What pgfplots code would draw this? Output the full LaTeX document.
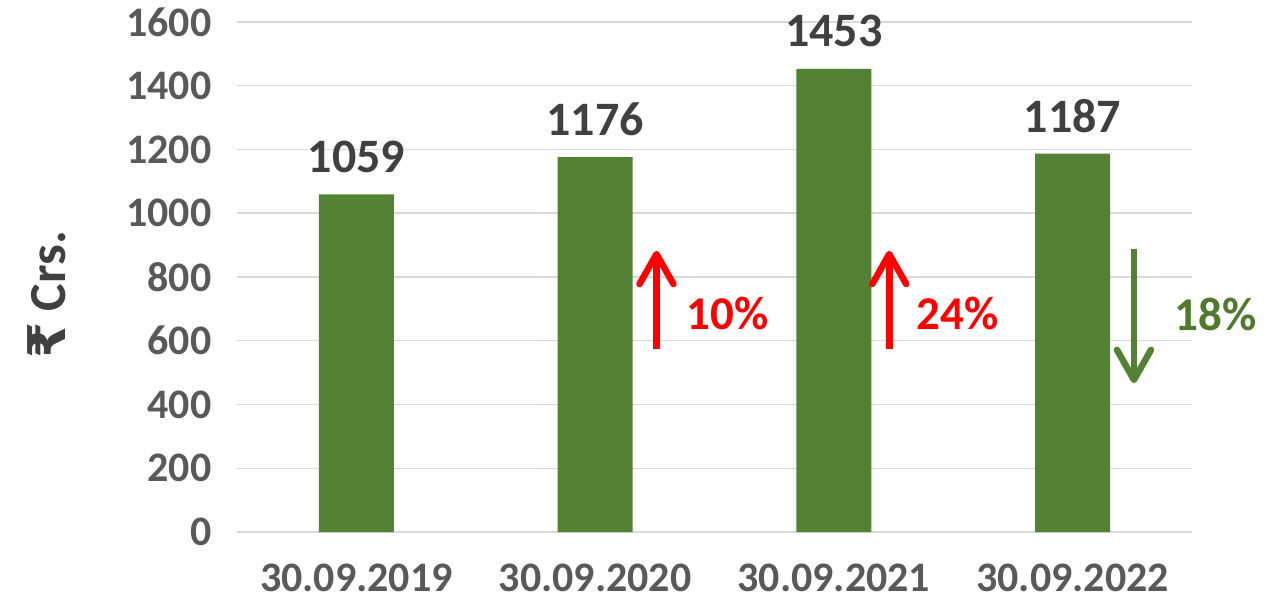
\documentclass[border=0pt]{standalone}
\usepackage{fontspec}
\setmainfont{Carlito}
\newfontfamily\rupeefont{DejaVu Sans}
\usepackage{pgfplots}
\pgfplotsset{compat=1.18}
\usetikzlibrary{arrows.meta}
\definecolor{bargreen}{HTML}{548235}
\definecolor{txtgreen}{HTML}{4F7A2C}
\definecolor{ticktxt}{HTML}{595959}
\definecolor{lbltxt}{HTML}{404040}
\definecolor{gridc}{HTML}{D9D9D9}
\begin{document}
\begin{tikzpicture}
\useasboundingbox (-237bp,-77bp) rectangle (1044bp,532bp);
\begin{axis}[
  scale only axis,
  width=955bp, height=510bp,
  xmin=-0.5, xmax=3.5,
  ymin=0, ymax=1600,
  xtick={0,1,2,3},
  xticklabels={30.09.2019,30.09.2020,30.09.2021,30.09.2022},
  ytick={0,200,...,1600},
  ymajorgrids,
  major grid style={gridc, line width=1.5bp},
  axis line style={draw=none},
  tick style={draw=none},
  /pgf/number format/assume math mode=true,
  /pgf/number format/1000 sep={},
  ticklabel style={font=\fontsize{42bp}{48bp}\selectfont\bfseries, text=ticktxt},
  yticklabel style={xshift=-22bp},
  xticklabel style={yshift=-28bp},
  ylabel={{\rupeefont\bfseries ₹} Crs.},
  ylabel style={at={(rel axis cs:0,0.5)}, anchor=center, yshift=190bp, xshift=-18bp, font=\fontsize{52bp}{58bp}\selectfont\bfseries, text=lbltxt},
  clip=false,
]
\addplot[ybar, bar width=75bp, fill=bargreen, draw=none,
  nodes near coords,
  nodes near coords style={font=\fontsize{48bp}{54bp}\selectfont\bfseries, text=lbltxt, anchor=center, yshift=38bp},
  point meta=explicit symbolic]
  coordinates {(0,1059)[1059] (1,1176)[1176] (2,1453)[1453] (3,1187)[1187]};
\draw[red, line width=6.5bp, -{Straight Barb[length=30bp, width=34bp, round]}] (axis cs:1.257,575) -- (axis cs:1.257,882);
\draw[red, line width=6.5bp, -{Straight Barb[length=30bp, width=34bp, round]}] (axis cs:2.232,575) -- (axis cs:2.232,882);
\draw[bargreen, line width=6.5bp, -{Straight Barb[length=30bp, width=34bp, round]}] (axis cs:3.257,888) -- (axis cs:3.257,467);
\node[font=\fontsize{47bp}{52bp}\selectfont\bfseries, text=red] at (axis cs:1.555,684) {10\%};
\node[font=\fontsize{47bp}{52bp}\selectfont\bfseries, text=red] at (axis cs:2.517,684) {24\%};
\node[font=\fontsize{47bp}{52bp}\selectfont\bfseries, text=txtgreen] at (axis cs:3.60,684) {18\%};
\end{axis}
\end{tikzpicture}
\end{document}
